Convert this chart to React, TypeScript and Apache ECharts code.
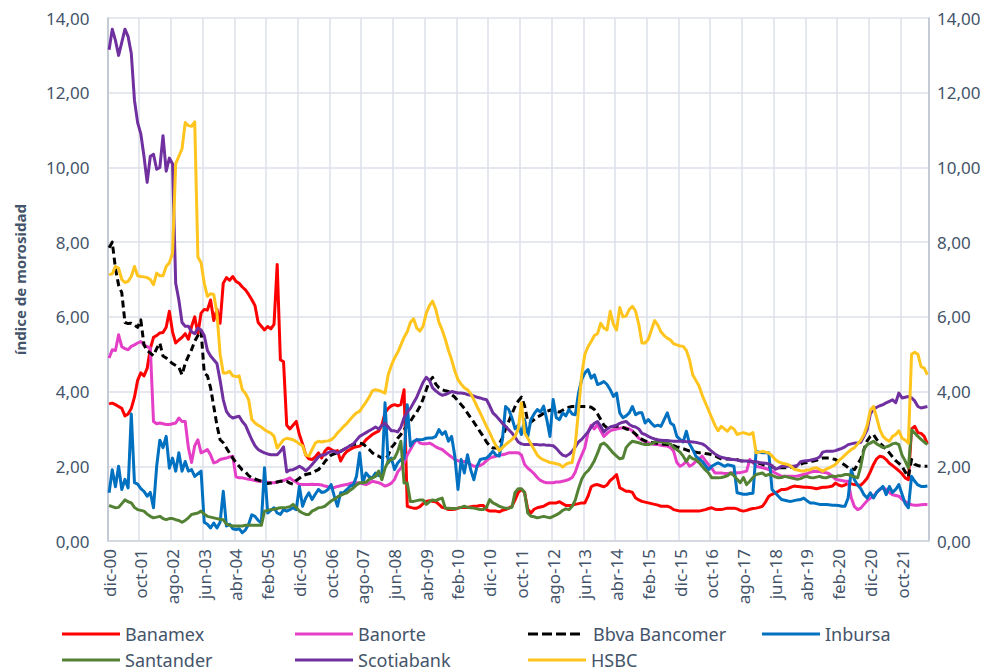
import React, { useEffect, useRef } from "react";
import * as echarts from "echarts";

const MONTH_NAMES = ["ene", "feb", "mar", "abr", "may", "jun", "jul", "ago", "sep", "oct", "nov", "dic"];
const START_YEAR = 2000;
const START_MONTH = 11; // dic
const N_MONTHS = 259;

const categories: string[] = [];
for (let k = 0; k < N_MONTHS; k++) {
  const m = (START_MONTH + k) % 12;
  const y = START_YEAR + Math.floor((START_MONTH + k) / 12);
  categories.push(MONTH_NAMES[m] + "-" + String(y % 100).padStart(2, "0"));
}

const banamex = [
  3.67, 3.69, 3.65, 3.6, 3.55, 3.35, 3.4, 3.55, 3.85, 4.3,
  4.5, 4.42, 4.62, 5.15, 5.45, 5.5, 5.57, 5.58, 5.72, 6.15,
  5.6, 5.3, 5.38, 5.45, 5.55, 5.4, 5.74, 6.0, 5.55, 6.1,
  6.2, 6.18, 6.45, 5.9, 6.2, 5.83, 6.9, 7.05, 6.98, 7.08,
  6.95, 6.9, 6.8, 6.72, 6.6, 6.46, 6.3, 5.85, 5.75, 5.65,
  5.74, 5.68, 5.8, 7.4, 4.85, 4.8, 3.1, 3.0, 3.1, 3.2,
  2.85, 2.6, 2.3, 2.2, 2.18, 2.25, 2.36, 2.22, 2.4, 2.49,
  2.45, 2.4, 2.42, 2.14, 2.3, 2.4, 2.45, 2.5, 2.52, 2.54,
  2.6, 2.71, 2.78, 2.85, 2.9, 2.94, 3.1, 3.43, 3.55, 3.62,
  3.65, 3.62, 3.65, 4.05, 0.93, 0.9, 0.88, 0.88, 0.92, 1.0,
  1.06, 1.08, 1.06, 1.05, 0.98, 0.9, 0.88, 0.84, 0.84, 0.85,
  0.88, 0.9, 0.9, 0.9, 0.92, 0.93, 0.93, 0.95, 0.95, 0.84,
  0.8, 0.8, 0.8, 0.78, 0.82, 0.84, 0.88, 0.93, 1.1, 1.3,
  1.38, 1.3, 0.85, 0.75, 0.85, 0.89, 0.91, 0.93, 0.98, 1.02,
  1.02, 1.02, 1.05, 1.0, 0.95, 0.95, 0.96, 0.98, 1.0, 1.02,
  1.02, 1.2, 1.45, 1.5, 1.51, 1.48, 1.45, 1.5, 1.62, 1.69,
  1.78, 1.42, 1.38, 1.33, 1.33, 1.3, 1.15, 1.1, 1.06, 1.04,
  1.02, 1.0, 0.98, 0.96, 0.93, 0.93, 0.93, 0.9, 0.84, 0.82,
  0.8, 0.8, 0.8, 0.8, 0.8, 0.8, 0.8, 0.82, 0.84, 0.87,
  0.89, 0.85, 0.84, 0.84, 0.86, 0.88, 0.88, 0.88, 0.86, 0.82,
  0.8, 0.82, 0.85, 0.87, 0.88, 0.9, 0.93, 1.05, 1.2, 1.25,
  1.29, 1.33, 1.38, 1.38, 1.4, 1.44, 1.47, 1.46, 1.45, 1.44,
  1.44, 1.43, 1.42, 1.4, 1.42, 1.44, 1.44, 1.45, 1.47, 1.55,
  1.5, 1.47, 1.5, 1.55, 1.53, 1.51, 1.5, 1.49, 1.58, 1.68,
  1.85, 2.05, 2.2, 2.27, 2.25, 2.18, 2.08, 2.02, 1.95, 1.88,
  1.8, 1.69, 1.64, 3.0, 3.07, 2.9, 2.88, 2.8, 2.6,
];

const banorte = [
  4.9, 5.12, 5.1, 5.52, 5.2, 5.15, 5.12, 5.21, 5.25, 5.3,
  5.34, 5.25, 5.2, 5.17, 3.2, 3.14, 3.16, 3.14, 3.12, 3.12,
  3.14, 3.16, 3.29, 3.2, 3.2, 2.5, 2.1, 2.55, 2.71, 2.36,
  2.4, 2.45, 2.3, 2.09, 2.12, 2.18, 2.2, 2.22, 2.25, 2.27,
  1.72, 1.69, 1.69, 1.67, 1.65, 1.64, 1.62, 1.6, 1.6, 1.58,
  1.57, 1.56, 1.56, 1.58, 1.6, 1.62, 1.65, 1.69, 1.62, 1.58,
  1.51, 1.51, 1.51, 1.51, 1.52, 1.51, 1.51, 1.5, 1.47, 1.45,
  1.42, 1.43, 1.46, 1.48, 1.5, 1.51, 1.54, 1.56, 1.56, 1.55,
  1.53, 1.51, 1.55, 1.6, 1.58, 1.56, 1.52, 1.47, 1.5, 1.55,
  1.65, 1.85, 1.95, 2.1, 2.3, 2.45, 2.6, 2.72, 2.62, 2.6,
  2.6, 2.62, 2.58, 2.52, 2.48, 2.45, 2.38, 2.31, 2.25, 2.18,
  2.15, 2.13, 2.13, 2.1, 2.05, 2.0, 2.0, 2.02, 2.07, 2.15,
  2.22, 2.25, 2.27, 2.3, 2.31, 2.33, 2.36, 2.36, 2.36, 2.36,
  2.3, 2.05, 1.95, 1.88, 1.8, 1.7, 1.62, 1.58, 1.56, 1.56,
  1.56, 1.58, 1.58, 1.6, 1.62, 1.65, 1.7, 1.85, 2.1, 2.3,
  2.5, 2.9, 3.1, 3.0, 3.12, 2.95, 2.8, 2.88, 2.95, 2.98,
  3.0, 3.02, 3.03, 3.03, 3.0, 2.95, 2.85, 2.75, 2.7, 2.66,
  2.63, 2.6, 2.58, 2.58, 2.56, 2.55, 2.54, 2.5, 2.4, 2.1,
  2.0, 2.05, 2.13, 2.0, 2.05, 2.13, 2.2, 2.27, 2.15, 2.05,
  1.95, 1.82, 1.82, 1.82, 1.81, 1.81, 1.82, 1.83, 1.83, 1.83,
  1.85, 1.87, 2.18, 2.1, 2.0, 1.98, 1.96, 1.94, 1.91, 1.87,
  1.82, 1.78, 1.73, 1.73, 1.73, 1.73, 1.73, 1.74, 1.76, 1.78,
  1.8, 1.84, 1.86, 1.87, 1.86, 1.84, 1.83, 1.8, 1.73, 1.66,
  1.63, 1.62, 1.6, 1.6, 1.15, 0.92, 0.84, 0.88, 0.98, 1.08,
  1.15, 1.2, 1.3, 1.38, 1.42, 1.38, 1.3, 1.24, 1.22, 1.2,
  1.12, 1.06, 1.0, 0.97, 0.96, 0.96, 0.97, 0.98, 0.98,
];

const bbvaBancomer = [
  7.85, 8.0, 7.3, 6.85, 6.65, 5.85, 5.82, 5.83, 5.78, 5.72,
  5.92, 5.25, 5.1, 5.03, 4.96, 5.15, 5.3, 4.95, 4.9, 4.82,
  4.75, 4.7, 4.65, 4.45, 4.75, 4.95, 5.12, 5.35, 5.5, 5.62,
  4.5, 4.42, 4.1, 3.6, 3.1, 2.71, 2.63, 2.49, 2.35, 2.22,
  2.1, 2.0, 1.9, 1.85, 1.75, 1.69, 1.66, 1.63, 1.6, 1.56,
  1.54, 1.55, 1.56, 1.58, 1.6, 1.6, 1.6, 1.55, 1.52, 1.62,
  1.68, 1.75, 1.78, 1.8, 1.82, 1.87, 1.91, 2.0, 2.12, 2.22,
  2.3, 2.33, 2.36, 2.4, 2.45, 2.5, 2.55, 2.58, 2.6, 2.62,
  2.6, 2.53, 2.45, 2.36, 2.3, 2.27, 2.22, 2.18, 2.3, 2.5,
  2.6, 2.75, 2.85, 2.98, 3.07, 3.2, 3.34, 3.45, 3.6, 3.8,
  4.05, 4.28, 4.38, 4.2, 4.1, 4.05, 4.02, 4.0, 3.92, 3.85,
  3.75, 3.65, 3.55, 3.42, 3.3, 3.18, 3.05, 2.92, 2.8, 2.65,
  2.55, 2.49, 2.49, 2.6, 2.76, 3.0, 3.2, 3.4, 3.6, 3.75,
  3.85, 3.62, 3.2, 3.18, 3.25, 3.32, 3.36, 3.42, 3.47, 3.5,
  3.52, 3.47, 3.45, 3.5, 3.55, 3.58, 3.6, 3.6, 3.6, 3.6,
  3.6, 3.6, 3.58, 3.52, 3.4, 3.25, 3.1, 3.03, 3.05, 3.07,
  3.07, 3.07, 3.04, 3.0, 2.98, 2.93, 2.86, 2.78, 2.72, 2.68,
  2.65, 2.64, 2.63, 2.61, 2.6, 2.59, 2.58, 2.57, 2.55, 2.52,
  2.5, 2.47, 2.44, 2.41, 2.4, 2.38, 2.36, 2.36, 2.34, 2.33,
  2.31, 2.28, 2.24, 2.2, 2.18, 2.2, 2.19, 2.18, 2.18, 2.15,
  2.14, 2.14, 2.13, 2.12, 2.11, 2.08, 2.05, 2.03, 2.0, 1.98,
  1.96, 1.96, 1.96, 1.96, 1.96, 1.97, 1.99, 2.01, 2.05, 2.09,
  2.1, 2.12, 2.14, 2.16, 2.2, 2.22, 2.22, 2.22, 2.2, 2.18,
  2.12, 2.09, 2.03, 1.96, 1.93, 1.91, 2.05, 2.2, 2.45, 2.68,
  2.8, 2.85, 2.72, 2.62, 2.54, 2.45, 2.36, 2.25, 2.15, 2.08,
  2.0, 1.85, 1.72, 2.18, 2.05, 2.02, 2.0, 2.0, 2.0,
];

const inbursa = [
  1.29, 1.91, 1.45, 2.0, 1.38, 1.65, 1.42, 3.4, 1.56, 1.52,
  1.4, 1.33, 1.2, 1.3, 0.89, 2.0, 2.7, 2.5, 2.8, 1.95,
  2.22, 1.87, 2.36, 1.87, 2.13, 1.87, 1.91, 1.73, 1.8, 1.87,
  0.5, 0.45, 0.35, 0.48, 0.35, 0.5, 1.33, 0.4, 0.45, 0.33,
  0.31, 0.33, 0.22, 0.3, 0.45, 0.7, 0.66, 0.55, 0.48, 1.96,
  0.75, 0.82, 0.89, 0.75, 0.71, 0.84, 0.8, 0.84, 0.89, 0.84,
  1.46, 0.93, 1.15, 1.29, 1.11, 1.25, 1.38, 1.3, 1.32, 1.38,
  1.51, 1.2, 0.93, 1.29, 1.3, 1.38, 1.47, 1.5, 1.73, 2.36,
  1.56, 1.82, 1.72, 1.69, 1.82, 1.75, 1.74, 3.7, 2.09, 2.22,
  1.91, 2.09, 2.18, 2.2, 3.65, 2.54, 2.67, 2.71, 2.71, 2.72,
  2.75, 2.76, 2.76, 2.8, 2.98, 2.85, 2.93, 2.67, 2.8, 2.27,
  1.38, 2.18, 1.82, 2.31, 1.91, 1.64, 2.0, 2.18, 2.2, 2.22,
  2.3, 2.4, 2.3, 2.27, 2.71, 3.6, 3.52, 3.3, 3.0, 3.1,
  2.85, 3.25, 2.8, 3.25, 3.4, 3.52, 3.45, 3.61, 3.25, 2.8,
  3.79, 3.3, 3.25, 3.43, 3.35, 3.52, 3.4, 3.38, 3.96, 4.32,
  4.5, 4.59, 4.36, 4.45, 4.19, 4.22, 4.27, 4.19, 4.05, 3.87,
  3.96, 3.43, 3.3, 3.35, 3.43, 3.6, 3.38, 3.43, 3.43, 3.16,
  3.25, 3.15, 3.07, 3.1, 3.07, 3.25, 3.43, 3.16, 3.1, 2.8,
  2.72, 2.65, 2.94, 2.6, 2.45, 2.27, 2.2, 2.13, 2.02, 1.91,
  2.0, 2.05, 2.09, 2.05, 2.0, 2.04, 2.02, 2.0, 1.29, 1.27,
  1.25, 1.25, 1.27, 1.28, 2.4, 2.38, 2.36, 2.36, 2.36, 1.38,
  1.29, 1.2, 1.11, 1.09, 1.07, 1.06, 1.08, 1.1, 1.11, 1.15,
  1.08, 1.02, 1.02, 1.0, 0.98, 0.98, 0.98, 0.97, 0.96, 0.96,
  0.95, 0.93, 0.93, 1.15, 1.9, 1.64, 1.5, 1.4, 1.24, 1.15,
  1.29, 1.15, 1.3, 1.38, 1.46, 1.24, 1.46, 1.3, 1.38, 1.51,
  1.25, 1.0, 0.89, 1.73, 1.6, 1.5, 1.46, 1.46, 1.47,
];

const santander = [
  0.95, 0.92, 0.89, 0.9, 1.0, 1.1, 1.05, 1.02, 0.9, 0.84,
  0.82, 0.8, 0.72, 0.66, 0.62, 0.64, 0.66, 0.6, 0.57, 0.6,
  0.6, 0.57, 0.55, 0.5, 0.55, 0.62, 0.71, 0.73, 0.75, 0.8,
  0.72, 0.66, 0.64, 0.62, 0.6, 0.58, 0.57, 0.45, 0.42, 0.4,
  0.4, 0.4, 0.4, 0.42, 0.42, 0.42, 0.42, 0.42, 0.42, 0.8,
  0.82, 0.84, 0.85, 0.87, 0.89, 0.89, 0.9, 0.92, 0.98, 0.9,
  0.8, 0.75, 0.71, 0.71, 0.8, 0.84, 0.89, 0.9, 0.93, 1.0,
  1.07, 1.12, 1.18, 1.22, 1.26, 1.29, 1.36, 1.42, 1.5, 1.56,
  1.56, 1.57, 1.65, 1.69, 1.73, 1.87, 1.64, 1.95, 2.13, 2.18,
  2.22, 2.4, 2.67, 1.55, 1.55, 1.06, 1.06, 1.08, 1.1, 1.1,
  0.98, 1.05, 1.1, 1.08, 1.12, 1.15, 0.88, 0.88, 0.87, 0.87,
  0.88, 0.9, 0.93, 0.9, 0.89, 0.88, 0.86, 0.84, 0.84, 0.9,
  1.11, 1.02, 0.98, 0.93, 0.9, 0.88, 0.88, 0.9, 1.3, 1.4,
  1.4, 1.3, 0.75, 0.66, 0.65, 0.62, 0.64, 0.66, 0.64, 0.62,
  0.66, 0.7, 0.75, 0.82, 0.86, 0.84, 0.93, 1.1, 1.4, 1.65,
  1.8, 1.88, 2.0, 2.15, 2.35, 2.58, 2.62, 2.55, 2.45, 2.35,
  2.27, 2.2, 2.22, 2.5, 2.6, 2.67, 2.65, 2.63, 2.6, 2.58,
  2.58, 2.6, 2.65, 2.67, 2.65, 2.64, 2.62, 2.6, 2.5, 2.45,
  2.38, 2.27, 2.13, 2.27, 2.2, 2.18, 2.1, 2.0, 1.9, 1.82,
  1.69, 1.69, 1.69, 1.7, 1.72, 1.75, 1.82, 1.75, 1.65, 1.56,
  1.7, 1.51, 1.6, 1.7, 1.78, 1.8, 1.82, 1.75, 1.78, 1.76,
  1.72, 1.69, 1.7, 1.73, 1.71, 1.69, 1.67, 1.65, 1.67, 1.71,
  1.73, 1.7, 1.69, 1.71, 1.73, 1.7, 1.69, 1.72, 1.74, 1.72,
  1.75, 1.75, 1.78, 1.78, 1.75, 1.72, 1.69, 2.0, 2.45, 2.58,
  2.62, 2.67, 2.6, 2.55, 2.5, 2.52, 2.55, 2.6, 2.62, 2.58,
  2.3, 2.14, 1.96, 2.98, 2.89, 2.8, 2.72, 2.65, 2.58,
];

const scotiabank = [
  13.15, 13.7, 13.4, 13.0, 13.35, 13.7, 13.5, 13.05, 11.8, 11.2,
  10.9, 10.3, 9.6, 10.3, 10.35, 9.95, 10.0, 10.85, 9.9, 10.25,
  10.1, 6.9, 6.45, 5.85, 5.75, 5.75, 5.6, 5.55, 5.7, 5.65,
  5.5, 5.1, 4.95, 4.85, 4.75, 4.3, 3.78, 3.47, 3.35, 3.29,
  3.32, 3.34, 3.2, 3.1, 2.9, 2.71, 2.55, 2.45, 2.4, 2.36,
  2.33, 2.31, 2.31, 2.31, 2.4, 2.52, 1.85, 1.9, 1.91, 1.95,
  2.0, 1.95, 1.88, 1.95, 2.05, 2.15, 2.25, 2.3, 2.3, 2.36,
  2.4, 2.4, 2.35, 2.4, 2.45, 2.5, 2.55, 2.6, 2.7, 2.8,
  2.85, 2.9, 2.95, 3.0, 3.05, 3.0, 3.1, 3.15, 3.05, 2.95,
  2.95, 2.92, 3.05, 3.3, 3.45, 3.55, 3.7, 3.85, 4.05, 4.25,
  4.38, 4.3, 4.1, 4.02, 3.95, 3.9, 3.92, 3.96, 4.0, 3.98,
  3.96, 3.96, 3.95, 3.92, 3.9, 3.88, 3.85, 3.83, 3.8, 3.78,
  3.62, 3.43, 3.35, 3.25, 3.15, 3.07, 2.98, 2.89, 2.78, 2.65,
  2.6, 2.58, 2.58, 2.58, 2.58, 2.58, 2.57, 2.58, 2.56, 2.56,
  2.55, 2.48, 2.38, 2.3, 2.27, 2.32, 2.4, 2.52, 2.65, 2.72,
  2.82, 2.92, 3.05, 3.15, 3.2, 3.07, 2.92, 3.0, 3.05, 3.07,
  3.1, 3.15, 3.18, 3.2, 3.12, 3.07, 3.05, 3.0, 2.88, 2.85,
  2.8, 2.76, 2.73, 2.71, 2.7, 2.69, 2.69, 2.68, 2.67, 2.67,
  2.67, 2.67, 2.66, 2.66, 2.65, 2.64, 2.62, 2.6, 2.55, 2.47,
  2.4, 2.33, 2.28, 2.24, 2.22, 2.2, 2.18, 2.18, 2.17, 2.15,
  2.14, 2.14, 2.13, 2.13, 2.12, 2.1, 2.09, 2.08, 2.06, 2.02,
  1.92, 1.95, 2.0, 2.0, 2.0, 2.0, 2.0, 2.02, 2.12, 2.14,
  2.15, 2.16, 2.18, 2.2, 2.25, 2.38, 2.4, 2.4, 2.4, 2.42,
  2.45, 2.48, 2.52, 2.58, 2.6, 2.62, 2.62, 2.64, 2.8, 2.98,
  3.4, 3.52, 3.58, 3.62, 3.65, 3.7, 3.74, 3.78, 3.7, 3.96,
  3.83, 3.85, 3.87, 3.83, 3.75, 3.6, 3.56, 3.58, 3.6,
];

const hsbc = [
  7.13, 7.15, 7.35, 7.3, 7.0, 6.92, 6.95, 7.08, 7.35, 7.1,
  7.08, 7.07, 7.05, 7.0, 6.86, 7.17, 7.1, 7.1, 7.35, 7.45,
  7.7, 10.1, 10.3, 10.5, 11.2, 11.12, 11.1, 11.22, 7.6, 7.45,
  6.9, 6.55, 6.62, 6.6, 6.1, 5.0, 4.5, 4.5, 4.54, 4.42,
  4.4, 4.42, 4.05, 3.95, 3.78, 3.25, 3.16, 3.1, 3.05, 2.98,
  2.93, 2.89, 2.8, 2.49, 2.6, 2.71, 2.75, 2.73, 2.71, 2.66,
  2.6, 2.55, 2.3, 2.27, 2.45, 2.62, 2.67, 2.65, 2.67, 2.68,
  2.71, 2.78, 2.89, 2.98, 3.07, 3.15, 3.25, 3.35, 3.43, 3.47,
  3.6, 3.72, 3.85, 4.02, 4.05, 4.03, 4.0, 3.96, 4.45, 4.7,
  4.9, 5.05, 5.25, 5.45, 5.6, 5.85, 5.95, 5.7, 5.62, 5.75,
  6.1, 6.3, 6.42, 6.2, 5.85, 5.65, 5.4, 5.1, 4.85, 4.55,
  4.32, 4.2, 4.1, 4.05, 3.95, 3.78, 3.6, 3.43, 3.25, 3.07,
  2.9, 2.71, 2.55, 2.42, 2.5, 2.58, 2.65, 2.72, 2.8, 3.0,
  3.7, 2.89, 2.75, 2.6, 2.45, 2.3, 2.22, 2.17, 2.14, 2.1,
  2.09, 2.07, 2.05, 1.98, 2.05, 2.09, 2.1, 2.6, 3.5, 4.45,
  5.0, 5.2, 5.34, 5.5, 5.55, 5.83, 5.7, 5.65, 6.15, 5.8,
  5.65, 6.25, 6.0, 6.02, 6.2, 6.28, 6.15, 5.8, 5.3, 5.3,
  5.4, 5.65, 5.9, 5.78, 5.6, 5.5, 5.43, 5.38, 5.28, 5.25,
  5.22, 5.21, 5.1, 4.85, 4.45, 4.3, 4.15, 3.9, 3.7, 3.5,
  3.3, 3.1, 2.95, 3.07, 3.0, 2.94, 3.05, 3.0, 2.85, 2.88,
  2.9, 2.87, 2.85, 2.9, 2.36, 2.38, 2.4, 2.38, 2.36, 2.28,
  2.18, 2.12, 2.09, 2.07, 2.05, 2.0, 1.92, 1.9, 1.88, 1.87,
  1.9, 1.91, 1.95, 1.96, 1.92, 1.87, 1.92, 1.96, 2.0, 2.05,
  2.15, 2.22, 2.3, 2.38, 2.45, 2.5, 2.6, 2.7, 2.85, 3.1,
  3.5, 3.6, 3.3, 2.98, 2.8, 2.72, 2.67, 2.8, 2.85, 2.95,
  2.75, 2.7, 2.62, 5.0, 5.05, 5.0, 4.67, 4.63, 4.45,
];

const SERIES_NAMES = ["Banamex", "Banorte", "Bbva Bancomer", "Inbursa", "Santander", "Scotiabank", "HSBC"];
const SERIES_DATA = [banamex, banorte, bbvaBancomer, inbursa, santander, scotiabank, hsbc];
const SERIES_COLORS = ["#FF0000", "#E43FC6", "#000000", "#0070C0", "#548235", "#7030A0", "#FFC51E"];

const Y_MIN = 0;
const Y_MAX = 14;
const Y_STEP = 2;

const TEXT_COLOR = "#44546A";
const FONT = "'Noto Sans', 'Open Sans', sans-serif";

const LEGEND_POS = [
  { left: 62, top: 624 },
  { left: 295, top: 624 },
  { left: 528, top: 624 },
  { left: 762, top: 624 },
  { left: 62, top: 650 },
  { left: 295, top: 650 },
  { left: 528, top: 650 },
];

const DASH_ICON = "path://M0,0h10v3h-10z M14,0h10v3h-10z M28,0h10v3h-10z M42,0h10v3h-10z M60,0L60,3";

const fmt = (v: number) => v.toFixed(2).replace(".", ",");

export default function App() {
  const ref = useRef<HTMLDivElement>(null);

  useEffect(() => {
    if (!ref.current) return;
    const chart = echarts.init(ref.current, undefined, { renderer: "svg" });

    const series = SERIES_NAMES.map((name, idx) => ({
      name,
      type: "line",
      data: SERIES_DATA[idx],
      symbol: "none",
      showSymbol: false,
      smooth: false,
      yAxisIndex: 0,
      lineStyle: {
        color: SERIES_COLORS[idx],
        width: 3,
        type: name === "Bbva Bancomer" ? [7, 4] : "solid",
        cap: "butt",
        join: "round",
      },
      itemStyle: { color: SERIES_COLORS[idx] },
      emphasis: { disabled: true },
    }));

    const legends = SERIES_NAMES.map((name, idx) => {
      const dashed = name === "Bbva Bancomer";
      return {
        show: true,
        left: LEGEND_POS[idx].left,
        top: LEGEND_POS[idx].top,
        orient: "horizontal",
        data: [name],
        icon: dashed ? DASH_ICON : "rect",
        itemWidth: dashed ? 60 : 58,
        itemHeight: 3,
        padding: 0,
        selectedMode: false,
        textStyle: { color: TEXT_COLOR, fontSize: 18, fontFamily: FONT, lineHeight: 20 },
      };
    });

    const axisLabelBase = {
      color: TEXT_COLOR,
      fontSize: 17,
      fontFamily: FONT,
      formatter: (v: number) => fmt(v),
    };

    chart.setOption({
      animation: false,
      backgroundColor: "#ffffff",
      grid: { left: 107.5, right: 72, top: 18, bottom: 131, containLabel: false },
      legend: legends,
      xAxis: {
        type: "category",
        data: categories,
        boundaryGap: true,
        axisLine: { show: true, lineStyle: { color: "#D0D5DC", width: 1.5 } },
        axisTick: { show: false, interval: 9 },
        axisLabel: {
          interval: 9,
          rotate: 90,
          color: TEXT_COLOR,
          fontSize: 17,
          fontFamily: FONT,
          margin: 8,
        },
        splitLine: { show: true, interval: 9, lineStyle: { color: "#DDE1E8", width: 1.5 } },
      },
      yAxis: [
        {
          type: "value",
          min: Y_MIN,
          max: Y_MAX,
          interval: Y_STEP,
          position: "left",
          name: "índice de morosidad",
          nameLocation: "middle",
          nameGap: 80,
          nameTextStyle: { color: TEXT_COLOR, fontSize: 15, fontWeight: "bold", fontFamily: FONT },
          axisTick: { show: false },
          axisLine: { show: true, lineStyle: { color: "#B8C2CF", width: 1.5 } },
          axisLabel: { ...axisLabelBase, margin: 18 },
          splitLine: { show: true, lineStyle: { color: "#DDE1E8", width: 1.5 } },
        },
        {
          type: "value",
          min: Y_MIN,
          max: Y_MAX,
          interval: Y_STEP,
          position: "right",
          axisTick: { show: false },
          axisLine: { show: true, lineStyle: { color: "#B8C2CF", width: 1.5 } },
          axisLabel: { ...axisLabelBase, margin: 8 },
          splitLine: { show: false },
        },
      ],
      series,
    });

    return () => chart.dispose();
  }, []);

  return <div ref={ref} style={{ width: 1001, height: 672, position: "absolute", left: 0, top: 0 }} />;
}
